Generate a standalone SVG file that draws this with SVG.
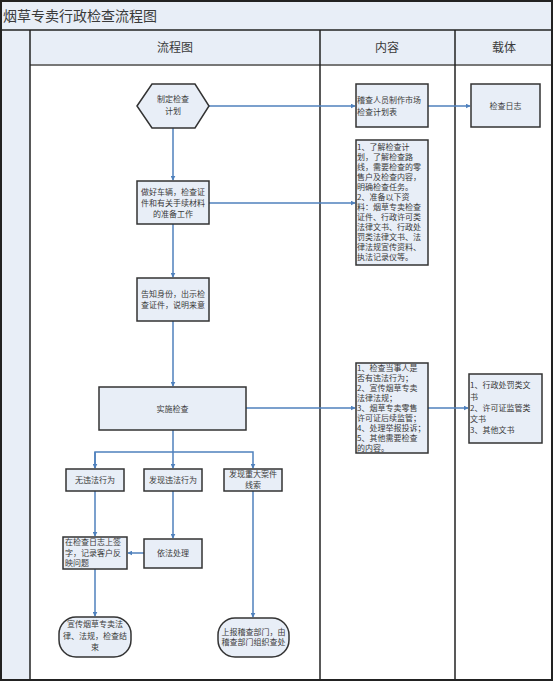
<svg xmlns="http://www.w3.org/2000/svg" width="555" height="683" viewBox="0 0 555 683">
<style>
.t{font-family:"Noto Sans CJK SC","Noto Sans",sans-serif;fill:#3a3a3a;}
.s{font-size:8px;}
.h{font-size:12px;}
.box{fill:#e8eef7;stroke:#333;stroke-width:1.5;}
.c{fill:none;stroke:#4f81bd;stroke-width:1.5;}
.frame{stroke:#222;stroke-width:2;fill:none;}
</style>
<defs>
<marker id="a" viewBox="0 0 8 8" refX="7" refY="4" markerWidth="5" markerHeight="5" orient="auto" markerUnits="userSpaceOnUse">
<path d="M0,0 L8,4 L0,8 Z" fill="#4f81bd"/>
</marker>
</defs>
<rect width="555" height="683" fill="#ffffff"/>
<g id="frame">
<rect x="1" y="1" width="551" height="29" fill="#e8eef7"/>
<rect x="1" y="30" width="29" height="650" fill="#e8eef7"/>
<rect x="30" y="30" width="522" height="35" fill="#e8eef7"/>
<line x1="30" y1="65" x2="552" y2="65" stroke="#777" stroke-width="2"/>
<line x1="1" y1="30" x2="552" y2="30" stroke="#222" stroke-width="1.5"/>
<line x1="30" y1="30" x2="30" y2="680" stroke="#222" stroke-width="1.5"/>
<line x1="320" y1="30" x2="320" y2="680" stroke="#222" stroke-width="1.5"/>
<line x1="455" y1="30" x2="455" y2="680" stroke="#222" stroke-width="1.5"/>
<rect x="1" y="1" width="551" height="679" class="frame"/>
<text class="t" x="3" y="21" font-size="14">烟草专卖行政检查流程图</text>
<text class="t h" x="175" y="52" text-anchor="middle">流程图</text>
<text class="t h" x="387" y="52" text-anchor="middle">内容</text>
<text class="t h" x="504" y="52" text-anchor="middle">载体</text>
</g>
<g id="connectors">
<line class="c" x1="209" y1="106" x2="355" y2="106" marker-end="url(#a)"/>
<line class="c" x1="428" y1="106" x2="470" y2="106" marker-end="url(#a)"/>
<line class="c" x1="173" y1="128" x2="173" y2="180" marker-end="url(#a)"/>
<line class="c" x1="209" y1="203" x2="355" y2="203" marker-end="url(#a)"/>
<line class="c" x1="173" y1="224" x2="173" y2="277" marker-end="url(#a)"/>
<line class="c" x1="173" y1="321" x2="173" y2="386" marker-end="url(#a)"/>
<line class="c" x1="246" y1="408" x2="355" y2="408" marker-end="url(#a)"/>
<line class="c" x1="428" y1="408" x2="468" y2="408" marker-end="url(#a)"/>
<polyline class="c" points="173,430 173,452"/>
<polyline class="c" points="95,468 95,452 253,452 253,468" marker-end="url(#a)"/>
<line class="c" x1="95" y1="452" x2="95" y2="468" marker-end="url(#a)"/>
<line class="c" x1="173" y1="452" x2="173" y2="468" marker-end="url(#a)"/>
<line class="c" x1="95" y1="491" x2="95" y2="536" marker-end="url(#a)"/>
<line class="c" x1="173" y1="491" x2="173" y2="538" marker-end="url(#a)"/>
<line class="c" x1="144" y1="553" x2="128" y2="553" marker-end="url(#a)"/>
<line class="c" x1="95" y1="569" x2="95" y2="616" marker-end="url(#a)"/>
<line class="c" x1="253" y1="491" x2="253" y2="617" marker-end="url(#a)"/>
</g>
<g id="n1">
<polygon class="box" points="137,106 152,84 195,84 209,106 195,128 152,128"/>
<text class="t s" x="173" y="102" text-anchor="middle">制定检查</text>
<text class="t s" x="173" y="114" text-anchor="middle">计划</text>
</g>
<g id="n2">
<rect class="box" x="356" y="84" width="72" height="43"/>
<text class="t s" x="357" y="103">稽查人员制作市场</text>
<text class="t s" x="357" y="115">检查计划表</text>
</g>
<g id="n3">
<rect class="box" x="471" y="84" width="69" height="43"/>
<text class="t s" x="505.5" y="109" text-anchor="middle">检查日志</text>
</g>
<g id="n4">
<rect class="box" x="137" y="181" width="72" height="43"/>
<text class="t s" x="173" y="195" text-anchor="middle">做好车辆，检查证</text>
<text class="t s" x="173" y="206" text-anchor="middle">件和有关手续材料</text>
<text class="t s" x="173" y="217" text-anchor="middle">的准备工作</text>
</g>
<g id="n5">
<rect class="box" x="356" y="140" width="72" height="125"/>
<text class="t s" x="357" y="150">1、了解检查计</text>
<text class="t s" x="357" y="160">划，了解检查路</text>
<text class="t s" x="357" y="170">线，需要检查的零</text>
<text class="t s" x="357" y="180">售户及检查内容，</text>
<text class="t s" x="357" y="190">明确检查任务。</text>
<text class="t s" x="357" y="200">2、准备以下资</text>
<text class="t s" x="357" y="210">料：烟草专卖检查</text>
<text class="t s" x="357" y="220">证件、行政许可类</text>
<text class="t s" x="357" y="230">法律文书、行政处</text>
<text class="t s" x="357" y="240">罚类法律文书、法</text>
<text class="t s" x="357" y="250">律法规宣传资料、</text>
<text class="t s" x="357" y="260">执法记录仪等。</text>
</g>
<g id="n6">
<rect class="box" x="137" y="278" width="72" height="43"/>
<text class="t s" x="173" y="297" text-anchor="middle">告知身份，出示检</text>
<text class="t s" x="173" y="308" text-anchor="middle">查证件，说明来意</text>
</g>
<g id="n7">
<rect class="box" x="99" y="387" width="147" height="43"/>
<text class="t s" x="172.5" y="412" text-anchor="middle">实施检查</text>
</g>
<g id="n8">
<rect class="box" x="356" y="363" width="72" height="90"/>
<text class="t s" x="357" y="371">1、检查当事人是</text>
<text class="t s" x="357" y="381">否有违法行为；</text>
<text class="t s" x="357" y="391">2、宣传烟草专卖</text>
<text class="t s" x="357" y="401">法律法规；</text>
<text class="t s" x="357" y="411">3、烟草专卖零售</text>
<text class="t s" x="357" y="421">许可证后续监管；</text>
<text class="t s" x="357" y="431">4、处理举报投诉；</text>
<text class="t s" x="357" y="441">5、其他需要检查</text>
<text class="t s" x="357" y="451">的内容。</text>
</g>
<g id="n9">
<rect class="box" x="469" y="374" width="73" height="69"/>
<text class="t s" x="470" y="388">1、行政处罚类文</text>
<text class="t s" x="470" y="400">书</text>
<text class="t s" x="470" y="411">2、许可证监管类</text>
<text class="t s" x="470" y="422">文书</text>
<text class="t s" x="470" y="433">3、其他文书</text>
</g>
<g id="n10">
<rect class="box" x="66" y="469" width="58" height="22"/>
<text class="t s" x="95" y="483" text-anchor="middle">无违法行为</text>
</g>
<g id="n11">
<rect class="box" x="144" y="469" width="58" height="22"/>
<text class="t s" x="173" y="483" text-anchor="middle">发现违法行为</text>
</g>
<g id="n12">
<rect class="box" x="224" y="469" width="58" height="22"/>
<text class="t s" x="253" y="477" text-anchor="middle">发现重大案件</text>
<text class="t s" x="253" y="488" text-anchor="middle">线索</text>
</g>
<g id="n13">
<rect class="box" x="63" y="537" width="64" height="32"/>
<text class="t s" x="65" y="545">在检查日志上签</text>
<text class="t s" x="65" y="556">字，记录客户反</text>
<text class="t s" x="65" y="566">映问题</text>
</g>
<g id="n14">
<rect class="box" x="144" y="539" width="58" height="29"/>
<text class="t s" x="173" y="556" text-anchor="middle">依法处理</text>
</g>
<g id="n15">
<rect class="box" x="59" y="617" width="72" height="40" rx="17" ry="17"/>
<text class="t s" x="95" y="627" text-anchor="middle">宣传烟草专卖法</text>
<text class="t s" x="95" y="639" text-anchor="middle">律、法规，检查结</text>
<text class="t s" x="95" y="650" text-anchor="middle">束</text>
</g>
<g id="n16">
<rect class="box" x="218" y="618" width="71" height="39" rx="17" ry="17"/>
<text class="t s" x="253.5" y="635" text-anchor="middle">上报稽查部门，由</text>
<text class="t s" x="253.5" y="645" text-anchor="middle">稽查部门组织查处</text>
</g>
</svg>
